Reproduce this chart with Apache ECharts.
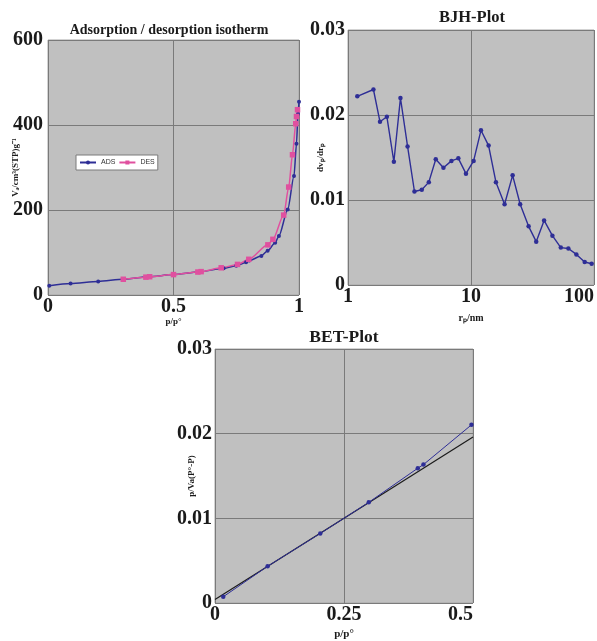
<!DOCTYPE html>
<html>
<head>
<meta charset="utf-8">
<script src="https://cdn.jsdelivr.net/npm/echarts@6/dist/echarts.min.js"></script>
<style>
html, body { margin: 0; padding: 0; background: #fff; }
#chart { width: 597px; height: 641px; }
</style>
</head>
<body>
<div id="chart"></div>
<script>
// Adsorption / desorption isotherm
const adsX = [0.005, 0.09, 0.2, 0.3, 0.4, 0.5, 0.6, 0.7, 0.75, 0.789, 0.802, 0.85, 0.875, 0.905, 0.92, 0.955, 0.98, 0.99, 0.996, 1.0];
const adsY = [22, 27, 32, 37, 43, 48, 54, 63, 69, 77, 81, 92, 104, 123, 139, 201, 280, 356, 426, 455];
const desX = [0.3, 0.39, 0.405, 0.5, 0.597, 0.61, 0.69, 0.755, 0.8, 0.876, 0.896, 0.939, 0.959, 0.974, 0.987, 0.99, 0.994];
const desY = [37, 42, 43, 48, 54, 55, 64, 72, 84, 118, 131, 188, 254, 330, 403, 420, 436];

// BJH plot
const bjhR = [1.19, 1.61, 1.82, 2.07, 2.36, 2.67, 3.05, 3.47, 3.98, 4.54, 5.17, 5.97, 6.93, 7.89, 9.1, 10.5,
  12.05, 13.9, 15.95, 18.75, 21.8, 25.1, 29.4, 33.9, 39.3, 45.9, 53.7, 61.9, 71.9, 84, 95.7];
const bjhDv = [0.0222, 0.0230, 0.0192, 0.0198, 0.0145, 0.0220, 0.0163, 0.0110, 0.0112, 0.0121, 0.0148, 0.0138,
  0.0146, 0.0149, 0.0131, 0.0146, 0.0182, 0.0164, 0.0121, 0.0095, 0.0129, 0.0095, 0.0069, 0.0051, 0.0076,
  0.0058, 0.0044, 0.0043, 0.0036, 0.0027, 0.0025];

// BET plot
const betX = [0.016, 0.102, 0.204, 0.298, 0.393, 0.404, 0.497];
const betY = [0.00074, 0.00434, 0.00821, 0.01189, 0.01592, 0.01635, 0.02104];
const fitX = [0, 0.5];
const fitY = [0.0004, 0.0196];

const pairs = (xs, ys) => xs.map((x, i) => [x, ys[i]]);

const SERIF = '"Liberation Serif", "Times New Roman", serif';
const BLUE = '#2e2e96';
const PINK = '#e0509f';

function gridBox(left, top, width, height) {
    return {
        left, top, width, height,
        show: true,
        backgroundColor: '#c0c0c0',
        borderColor: '#a6a6a6',
        borderWidth: 1
    };
}

function tickLabels(margin, extra) {
    return Object.assign({
        color: '#1a1a1a',
        fontFamily: SERIF,
        fontWeight: 'bold',
        fontSize: 20,
        margin
    }, extra);
}

function nameStyle(size) {
    return { color: '#1a1a1a', fontFamily: SERIF, fontWeight: 'bold', fontSize: size };
}

function valueAxis(gridIndex, opts) {
    return Object.assign({
        gridIndex,
        type: 'value',
        axisLine: { show: false },
        axisTick: { show: false },
        splitLine: { show: true, lineStyle: { color: '#7a7a7a', width: 1 } },
        nameLocation: 'middle',
        nameMoveOverlap: false
    }, opts);
}

const chart = echarts.init(document.getElementById('chart'));

const option = {
    animation: false,
    backgroundColor: '#fff',
    graphic: [
        { type: 'text', x: 169, y: 30, style: { text: 'Adsorption / desorption isotherm', textAlign: 'center', textVerticalAlign: 'middle', font: 'bold 14px ' + SERIF, fill: '#1a1a1a' } },
        { type: 'text', x: 472, y: 18, style: { text: 'BJH-Plot', textAlign: 'center', textVerticalAlign: 'middle', font: 'bold 16.5px ' + SERIF, fill: '#1a1a1a' } },
        { type: 'text', x: 344, y: 337, style: { text: 'BET-Plot', textAlign: 'center', textVerticalAlign: 'middle', font: 'bold 17.5px ' + SERIF, fill: '#1a1a1a' } }
    ],
    legend: {
        data: ['ADS', 'DES'],
        left: 76,
        top: 155,
        orient: 'horizontal',
        backgroundColor: '#fff',
        borderColor: '#7a7a7a',
        borderWidth: 1,
        padding: [4, 3],
        itemWidth: 16,
        itemHeight: 5,
        itemGap: 3,
        textStyle: { fontSize: 7, fontFamily: '"Liberation Sans", Arial, sans-serif', color: '#333' }
    },
    grid: [
        gridBox(48, 40, 251, 255),
        gridBox(348, 30, 248, 255),
        gridBox(215, 349, 258, 255)
    ],
    xAxis: [
        valueAxis(0, { min: 0, max: 1, interval: 0.5, name: 'p/p°', nameGap: 22,
            nameTextStyle: nameStyle(9), axisLabel: tickLabels(2) }),
        valueAxis(1, { type: 'log', logBase: 10, min: 1, max: 100, name: 'rₚ/nm', nameGap: 28,
            nameTextStyle: nameStyle(10),
            minorTick: { show: false }, minorSplitLine: { show: false },
            axisLabel: tickLabels(2, { alignMaxLabel: 'right' }) }),
        valueAxis(2, { min: 0, max: 0.5, interval: 0.25, name: 'p/p°', nameGap: 26,
            nameTextStyle: nameStyle(11),
            axisLabel: tickLabels(2, { alignMaxLabel: 'right' }) })
    ],
    yAxis: [
        valueAxis(0, { min: 0, max: 600, interval: 200, name: 'Vₐ/cm³(STP)g⁻¹', nameGap: 28,
            nameTextStyle: nameStyle(9), axisLabel: tickLabels(5) }),
        valueAxis(1, { min: 0, max: 0.03, interval: 0.01, name: 'dvₚ/drₚ', nameGap: 23,
            nameTextStyle: nameStyle(9), axisLabel: tickLabels(3) }),
        valueAxis(2, { min: 0, max: 0.03, interval: 0.01, name: 'p/Va(P°-P)', nameGap: 19,
            nameTextStyle: nameStyle(9), axisLabel: tickLabels(3) })
    ],
    series: [
        {
            name: 'ADS', type: 'line', xAxisIndex: 0, yAxisIndex: 0,
            data: pairs(adsX, adsY),
            smooth: 0.25, smoothMonotone: 'x',
            symbol: 'circle', symbolSize: 4,
            lineStyle: { color: BLUE, width: 1.5 },
            itemStyle: { color: BLUE }
        },
        {
            name: 'DES', type: 'line', xAxisIndex: 0, yAxisIndex: 0,
            data: pairs(desX, desY),
            smooth: 0.25, smoothMonotone: 'x',
            symbol: 'rect', symbolSize: 5.5,
            lineStyle: { color: PINK, width: 1.5 },
            itemStyle: { color: PINK }
        },
        {
            name: 'BJH', type: 'line', xAxisIndex: 1, yAxisIndex: 1,
            data: pairs(bjhR, bjhDv),
            symbol: 'circle', symbolSize: 4.5,
            lineStyle: { color: BLUE, width: 1.4 },
            itemStyle: { color: BLUE }
        },
        {
            name: 'BET fit', type: 'line', xAxisIndex: 2, yAxisIndex: 2,
            data: pairs(fitX, fitY),
            symbol: 'none',
            lineStyle: { color: '#1a1a1a', width: 1.2 }
        },
        {
            name: 'BET', type: 'line', xAxisIndex: 2, yAxisIndex: 2,
            data: pairs(betX, betY),
            symbol: 'circle', symbolSize: 4.5,
            lineStyle: { color: BLUE, width: 1 },
            itemStyle: { color: BLUE }
        }
    ]
};

chart.setOption(option);
</script>
</body>
</html>
